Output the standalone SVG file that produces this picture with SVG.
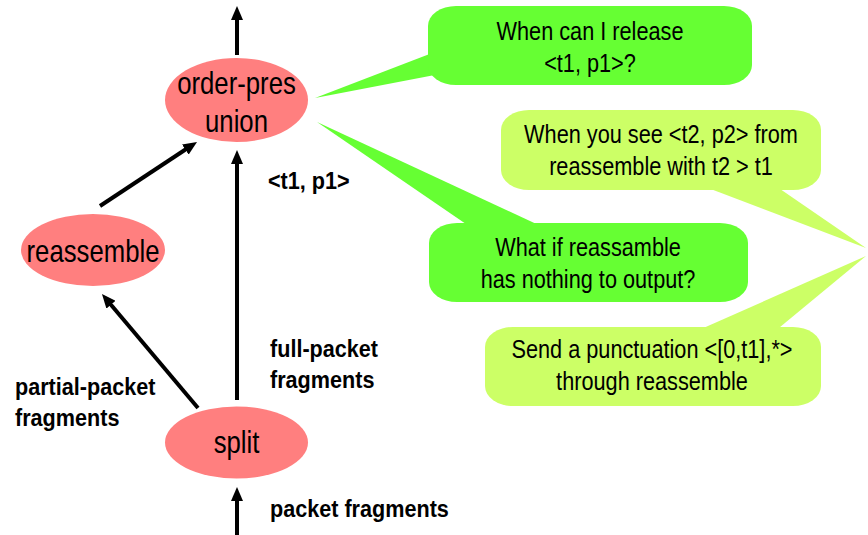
<svg xmlns="http://www.w3.org/2000/svg" width="868" height="535" viewBox="0 0 868 535">
  <style>
    text { font-family: "Liberation Sans", Arial, sans-serif; fill: #000; }
    .node ellipse { fill: #ff7f7f; }
    .node text { font-size: 31px; text-anchor: middle; }
    .edge { stroke: #000; stroke-width: 4; fill: none; marker-end: url(#arrow); }
    .elabel { font-size: 24px; font-weight: bold; }
    .note text { font-size: 26px; text-anchor: middle; }
    .dark { fill: #66ff33; }
    .light { fill: #ccff66; }
  </style>
  <defs>
    <marker id="arrow" markerUnits="userSpaceOnUse" markerWidth="14" markerHeight="12" refX="2" refY="6" orient="auto">
      <path d="M0,0 L14,6 L0,12 z" fill="#000"/>
    </marker>
  </defs>

  <!-- dataflow edges; labels use a condensed face via horizontal scaling -->
  <g id="edges">
    <line class="edge" x1="237" y1="55" x2="237" y2="18"/>
    <line class="edge" x1="237" y1="400" x2="237" y2="162"/>
    <line class="edge" x1="237" y1="535" x2="237" y2="499"/>
    <line class="edge" x1="100" y1="206" x2="187" y2="148.5"/>
    <line class="edge" x1="198" y1="408" x2="109.7" y2="303.2"/>
    <text class="elabel" transform="translate(268,189) scale(0.9,1)">&lt;t1, p1&gt;</text>
    <text class="elabel" transform="translate(270,357) scale(0.9,1)">full-packet</text>
    <text class="elabel" transform="translate(270,388) scale(0.9,1)">fragments</text>
    <text class="elabel" transform="translate(15,395) scale(0.9,1)">partial-packet</text>
    <text class="elabel" transform="translate(15,426) scale(0.9,1)">fragments</text>
    <text class="elabel" transform="translate(270,517) scale(0.9,1)">packet fragments</text>
  </g>

  <!-- operators -->
  <g id="union" class="node">
    <ellipse cx="236.5" cy="100" rx="71.5" ry="42"/>
    <text transform="translate(236.5,94) scale(0.83,1)">order-pres</text>
    <text transform="translate(236.5,132) scale(0.83,1)">union</text>
  </g>
  <g id="reassemble" class="node">
    <ellipse cx="93" cy="250" rx="72" ry="36"/>
    <text transform="translate(93,262) scale(0.83,1)">reassemble</text>
  </g>
  <g id="split" class="node">
    <ellipse cx="236.5" cy="442.5" rx="71.5" ry="36"/>
    <text transform="translate(236.5,453) scale(0.83,1)">split</text>
  </g>

  <!-- speech callouts -->
  <g id="note-release" class="note">
    <polygon class="dark" points="315,98 440,50 440,74"/>
    <rect class="dark" x="428" y="6" width="324" height="79" rx="28" ry="20"/>
    <text transform="translate(590,40) scale(0.835,1)">When can I release</text>
    <text transform="translate(590,72) scale(0.835,1)">&lt;t1, p1&gt;?</text>
  </g>
  <g id="note-nothing" class="note">
    <polygon class="dark" points="317,122 482,235 560,235"/>
    <rect class="dark" x="429" y="223" width="319" height="79" rx="28" ry="20"/>
    <text transform="translate(588,256) scale(0.835,1)">What if reassamble</text>
    <text transform="translate(588,288) scale(0.835,1)">has nothing to output?</text>
  </g>
  <g id="note-see" class="note">
    <polygon class="light" points="687,180 767,180 866,248"/>
    <rect class="light" x="501" y="110" width="320" height="80" rx="28" ry="20"/>
    <text transform="translate(661,143) scale(0.835,1)">When you see &lt;t2, p2&gt; from</text>
    <text transform="translate(661,175) scale(0.835,1)">reassemble with t2 &gt; t1</text>
  </g>
  <g id="note-punct" class="note">
    <polygon class="light" points="683,337 768,337 866,256"/>
    <rect class="light" x="485" y="327" width="336" height="79" rx="28" ry="20"/>
    <text transform="translate(652,358) scale(0.835,1)">Send a punctuation &lt;[0,t1],*&gt;</text>
    <text transform="translate(652,390) scale(0.835,1)">through reassemble</text>
  </g>
</svg>
